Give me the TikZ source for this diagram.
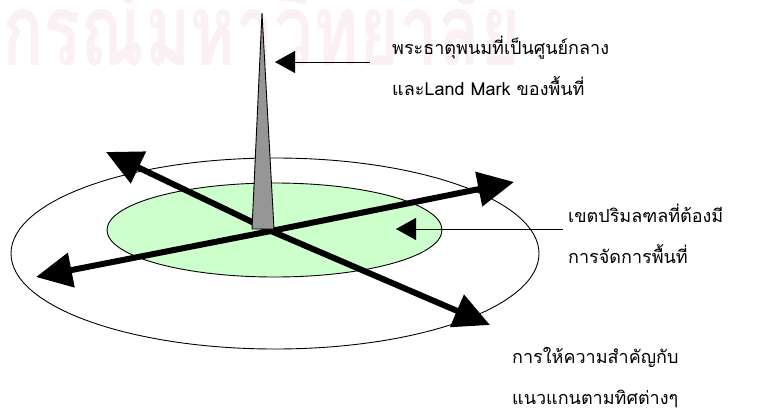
\documentclass[tikz,border=0pt]{standalone}
\usepackage{fontspec}
\newfontfamily\thaifont[Script=Thai]{Loma}
\usetikzlibrary{arrows.meta}
\definecolor{zoneGreen}{HTML}{CCFFCC}
\definecolor{spireGray}{HTML}{969696}
\definecolor{markPink}{HTML}{FAF0F6}

\begin{document}
\begin{tikzpicture}[x=1pt,y=-1pt,
  axis/.style={line width=6pt,line cap=round,-{Triangle[length=36pt,width=34pt]}},
  pointer/.style={line width=0.9pt,-{Triangle[length=20pt,width=22pt]}},
  thaitext/.style={anchor=west,align=left,inner sep=0pt,
    font=\thaifont\fontsize{18}{41}\selectfont}]
  \useasboundingbox (0,0) rectangle (759,412);
  % watermark
  \node[anchor=base west, inner sep=0pt, text=markPink,
    font=\thaifont\bfseries\fontsize{100}{100}\selectfont] (mark) at (2,65)
    {\scalebox{0.69}[1]{กรณ์มหาวิทยาลัย}};
  % ground zones
  \draw[line width=0.9pt] (275,253.5) ellipse [x radius=264, y radius=95.5];
  \draw[line width=0.9pt, fill=zoneGreen] (274.5,230) ellipse [x radius=167.5, y radius=47];
  % directions
  \coordinate (centre) at (271,231);
  \coordinate (tipUL) at (106,152);
  \coordinate (tipUR) at (514,182);
  \coordinate (tipLL) at (36,277);
  \coordinate (tipLR) at (490,325);
  \foreach \t in {tipUL,tipUR,tipLL,tipLR} \draw[axis] (centre) -- (\t);
  % spire
  \draw[line width=0.9pt, fill=spireGray] (262,13) -- (274,229) -- (252,229) -- cycle;
  \coordinate (spireSide) at (275,62);
  \coordinate (spireTail) at (370,62);
  \coordinate (zoneInside) at (396,229);
  \coordinate (zoneTail) at (563,229);
  % labels
  \node[thaitext] (lblSpire) at (392,66) {พระธาตุพนมที่เป็นศูนย์กลาง\\และLand Mark ของพื้นที่};
  \node[thaitext] (lblZone) at (568,234) {เขตปริมลฑลที่ต้องมี\\การจัดการพื้นที่};
  \node[thaitext] (lblAxes) at (512,378) {การให้ความสำคัญกับ\\แนวแกนตามทิศต่างๆ};
  \draw[pointer] (spireTail) -- (spireSide);
  \draw[pointer] (zoneTail) -- (zoneInside);
\end{tikzpicture}
\end{document}
